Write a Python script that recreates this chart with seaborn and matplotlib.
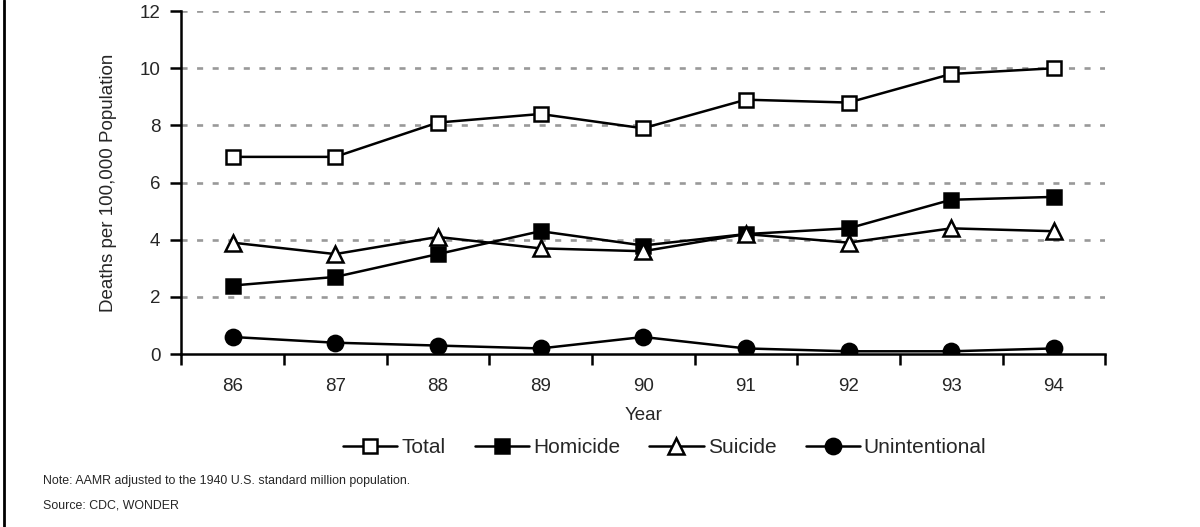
import matplotlib
matplotlib.use("Agg")
import matplotlib.pyplot as plt
from matplotlib.lines import Line2D
import numpy as np
import pandas as pd
import seaborn as sns

years = ["86", "87", "88", "89", "90", "91", "92", "93", "94"]
total = [6.9, 6.9, 8.1, 8.4, 7.9, 8.9, 8.8, 9.8, 10.0]
homicide = [2.4, 2.7, 3.5, 4.3, 3.8, 4.2, 4.4, 5.4, 5.5]
suicide = [3.9, 3.5, 4.1, 3.7, 3.6, 4.2, 3.9, 4.4, 4.3]
unintentional = [0.6, 0.4, 0.3, 0.2, 0.6, 0.2, 0.1, 0.1, 0.2]
y_ticks = [0, 2, 4, 6, 8, 10, 12]

sns.set_theme(style="white")
plt.rcParams["font.family"] = ["Liberation Sans", "DejaVu Sans"]

FS = 13.5
LEG_FS = 15

series = [
    ("Total", total, "s", "white"),
    ("Homicide", homicide, "s", "black"),
    ("Suicide", suicide, "^", "white"),
    ("Unintentional", unintentional, "o", "black"),
]

fig = plt.figure(figsize=(12, 5.27), dpi=100)
ax = fig.add_axes([0.151, 0.328, 0.770, 0.651])

pos = np.arange(len(years))
handles = []
for name, vals, mk, fc in series:
    df = pd.DataFrame({"x": pos, "y": vals})
    ms = 10.5 if mk == "s" else 11
    sns.lineplot(data=df, x="x", y="y", ax=ax, color="black", linewidth=1.8,
                 marker=mk, markersize=ms, markerfacecolor=fc,
                 markeredgecolor="black", markeredgewidth=1.8, zorder=3)
    handles.append(Line2D([], [], color="black", linewidth=1.8, marker=mk,
                          markersize=ms, markerfacecolor=fc,
                          markeredgecolor="black", markeredgewidth=1.8,
                          label=name))

ax.set_xlim(-0.5, len(years) - 0.5)
ax.set_ylim(0, 12)
ax.set_yticks(y_ticks)
ax.set_yticklabels([str(t) for t in y_ticks], fontsize=FS)

# category boundaries get the tick marks, centres carry the labels
ax.set_xticks(np.arange(-0.5, len(years)), minor=False)
ax.set_xticklabels([])
ax.set_xticks(pos, minor=True)
ax.set_xticklabels(years, minor=True, fontsize=FS)
ax.tick_params(axis="x", which="major", direction="out", length=8, width=1.8,
               color="black", bottom=True)
ax.tick_params(axis="x", which="minor", length=0, pad=17)
ax.tick_params(axis="y", direction="out", length=8, width=1.8, color="black",
               left=True, pad=7)

for y in y_ticks[1:]:
    ax.axhline(y, color="#999999", linewidth=1.9, linestyle=(0, (2.3, 3.6)), zorder=1)

for s in ["top", "right"]:
    ax.spines[s].set_visible(False)
for s in ["left", "bottom"]:
    ax.spines[s].set_color("black")
    ax.spines[s].set_linewidth(1.8)

ax.set_xlabel("Year", fontsize=FS, labelpad=9)
ax.set_ylabel("Deaths per 100,000 Population", fontsize=FS, labelpad=16)

fig.legend(handles=handles, loc="center", bbox_to_anchor=(0.554, 0.151),
           ncol=4, frameon=False, fontsize=LEG_FS, handlelength=2.6,
           handletextpad=0.2, columnspacing=1.4, numpoints=1)

fig.text(0.036, 0.088, "Note: AAMR adjusted to the 1940 U.S. standard million population.",
         fontsize=8.9, va="center")
fig.text(0.036, 0.040, "Source: CDC, WONDER", fontsize=8.9, va="center")

fig.add_artist(Line2D([0.0033, 0.0033], [0, 1], transform=fig.transFigure,
                      color="black", linewidth=2))

fig.savefig("out.png", dpi=100, facecolor="white")
